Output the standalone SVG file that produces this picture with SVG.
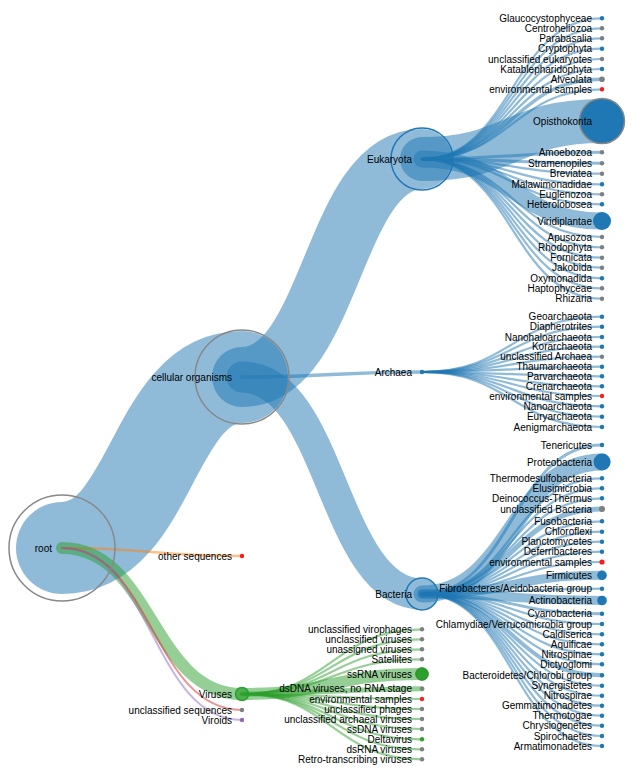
<svg xmlns="http://www.w3.org/2000/svg" width="637" height="773" viewBox="0 0 637 773">
<style>
.l{fill:none;stroke-opacity:.5;stroke-linecap:round}
.b{stroke:#1f77b4}.g{stroke:#2ca02c}.o{stroke:#ff7f0e}.r{stroke:#d62728}.p{stroke:#9467bd}
text{font-family:"Liberation Sans",Arial,sans-serif;font-size:10px;text-anchor:end;fill:#000}
circle{r:2.2}
.fb{fill:#1f77b4}.fk{fill:#7f7f7f}.fr{fill:#ff1a1a}.fg{fill:#2ca02c}.fp{fill:#9467bd}
.ring{fill:none;stroke:#888;stroke-width:1.5}
.ringb{fill:none;stroke:#1f77b4;stroke-width:1.5}
.ringg{fill:none;stroke:#2ca02c;stroke-width:1.5}
</style>
<rect width="637" height="773" fill="#fff"/>
<g id="links" stroke-width="2.2">
<path class="l b" stroke-width="92" d="M62,548C152,548 152,377 242,377"/>
<path class="l o" stroke-width="2.5" d="M62,548C152,548 152,556 242,556"/>
<path class="l g" stroke-width="12" d="M62,548C152,548 152,694 242,694"/>
<path class="l r" stroke-width="2" d="M62,548C152,548 152,710 242,710"/>
<path class="l p" stroke-width="2" d="M62,548C152,548 152,720 242,720"/>
<path class="l b" stroke-width="60" d="M242,377C332,377 332,159 422,159"/>
<path class="l b" stroke-width="3.5" d="M242,377C332,377 332,372 422,372"/>
<path class="l b" stroke-width="31" d="M242,377C332,377 332,594 422,594"/>
<path class="l b" d="M422,159C512,159 512,18.3 602,18.3"/>
<path class="l b" d="M422,159C512,159 512,28.3 602,28.3"/>
<path class="l b" d="M422,159C512,159 512,38.3 602,38.3"/>
<path class="l b" d="M422,159C512,159 512,48.7 602,48.7"/>
<path class="l b" d="M422,159C512,159 512,59 602,59"/>
<path class="l b" d="M422,159C512,159 512,69 602,69"/>
<path class="l b" stroke-width="3.5" d="M422,159C512,159 512,79.3 602,79.3"/>
<path class="l b" d="M422,159C512,159 512,89.3 602,89.3"/>
<path class="l b" stroke-width="44" d="M422,159C512,159 512,121 602,121"/>
<path class="l b" stroke-width="3" d="M422,159C512,159 512,152.3 602,152.3"/>
<path class="l b" stroke-width="3" d="M422,159C512,159 512,163.3 602,163.3"/>
<path class="l b" d="M422,159C512,159 512,173.7 602,173.7"/>
<path class="l b" d="M422,159C512,159 512,184.3 602,184.3"/>
<path class="l b" d="M422,159C512,159 512,194.3 602,194.3"/>
<path class="l b" d="M422,159C512,159 512,204.3 602,204.3"/>
<path class="l b" stroke-width="17" d="M422,159C512,159 512,221 602,221"/>
<path class="l b" d="M422,159C512,159 512,237 602,237"/>
<path class="l b" d="M422,159C512,159 512,247.3 602,247.3"/>
<path class="l b" d="M422,159C512,159 512,257.7 602,257.7"/>
<path class="l b" d="M422,159C512,159 512,267.7 602,267.7"/>
<path class="l b" d="M422,159C512,159 512,278.3 602,278.3"/>
<path class="l b" d="M422,159C512,159 512,288.3 602,288.3"/>
<path class="l b" d="M422,159C512,159 512,298.7 602,298.7"/>
<path class="l b" d="M422,372C512,372 512,316.7 602,316.7"/>
<path class="l b" d="M422,372C512,372 512,326.7 602,326.7"/>
<path class="l b" d="M422,372C512,372 512,337 602,337"/>
<path class="l b" d="M422,372C512,372 512,346.7 602,346.7"/>
<path class="l b" d="M422,372C512,372 512,356.7 602,356.7"/>
<path class="l b" d="M422,372C512,372 512,366.7 602,366.7"/>
<path class="l b" d="M422,372C512,372 512,376.3 602,376.3"/>
<path class="l b" d="M422,372C512,372 512,386.3 602,386.3"/>
<path class="l b" d="M422,372C512,372 512,396 602,396"/>
<path class="l b" d="M422,372C512,372 512,406.3 602,406.3"/>
<path class="l b" d="M422,372C512,372 512,416.7 602,416.7"/>
<path class="l b" d="M422,372C512,372 512,427 602,427"/>
<path class="l b" stroke-width="3" d="M422,594C512,594 512,445 602,445"/>
<path class="l b" stroke-width="17" d="M422,594C512,594 512,462 602,462"/>
<path class="l b" d="M422,594C512,594 512,478.3 602,478.3"/>
<path class="l b" d="M422,594C512,594 512,488.3 602,488.3"/>
<path class="l b" d="M422,594C512,594 512,498.3 602,498.3"/>
<path class="l b" stroke-width="5" d="M422,594C512,594 512,509 602,509"/>
<path class="l b" d="M422,594C512,594 512,521.3 602,521.3"/>
<path class="l b" d="M422,594C512,594 512,531.7 602,531.7"/>
<path class="l b" d="M422,594C512,594 512,541.7 602,541.7"/>
<path class="l b" d="M422,594C512,594 512,551.7 602,551.7"/>
<path class="l b" d="M422,594C512,594 512,562 602,562"/>
<path class="l b" stroke-width="9" d="M422,594C512,594 512,575.3 602,575.3"/>
<path class="l b" d="M422,594C512,594 512,588.7 602,588.7"/>
<path class="l b" stroke-width="9" d="M422,594C512,594 512,600.5 602,600.5"/>
<path class="l b" stroke-width="3" d="M422,594C512,594 512,613.7 602,613.7"/>
<path class="l b" d="M422,594C512,594 512,624 602,624"/>
<path class="l b" d="M422,594C512,594 512,634.3 602,634.3"/>
<path class="l b" d="M422,594C512,594 512,644.3 602,644.3"/>
<path class="l b" d="M422,594C512,594 512,654.3 602,654.3"/>
<path class="l b" d="M422,594C512,594 512,664.3 602,664.3"/>
<path class="l b" stroke-width="4" d="M422,594C512,594 512,675.3 602,675.3"/>
<path class="l b" d="M422,594C512,594 512,685.7 602,685.7"/>
<path class="l b" d="M422,594C512,594 512,695.7 602,695.7"/>
<path class="l b" d="M422,594C512,594 512,705.7 602,705.7"/>
<path class="l b" d="M422,594C512,594 512,715.7 602,715.7"/>
<path class="l b" d="M422,594C512,594 512,725.7 602,725.7"/>
<path class="l b" d="M422,594C512,594 512,736 602,736"/>
<path class="l b" d="M422,594C512,594 512,746 602,746"/>
<path class="l g" d="M242,694C332,694 332,629.3 422,629.3"/>
<path class="l g" d="M242,694C332,694 332,639.3 422,639.3"/>
<path class="l g" d="M242,694C332,694 332,649.3 422,649.3"/>
<path class="l g" d="M242,694C332,694 332,659.3 422,659.3"/>
<path class="l g" stroke-width="12" d="M242,694C332,694 332,674 422,674"/>
<path class="l g" stroke-width="5" d="M242,694C332,694 332,688.7 422,688.7"/>
<path class="l g" d="M242,694C332,694 332,699 422,699"/>
<path class="l g" d="M242,694C332,694 332,709 422,709"/>
<path class="l g" d="M242,694C332,694 332,719 422,719"/>
<path class="l g" d="M242,694C332,694 332,729 422,729"/>
<path class="l g" d="M242,694C332,694 332,739.3 422,739.3"/>
<path class="l g" d="M242,694C332,694 332,749.3 422,749.3"/>
<path class="l g" d="M242,694C332,694 332,759.3 422,759.3"/>
</g>
<g id="n-root" transform="translate(62,548)"><circle class="ring" style="r:53"/><text x="-10" dy=".35em">root</text></g>
<g id="n-cellular-organisms" transform="translate(242,377)"><circle class="ring" style="r:47"/><text x="-10" dy=".35em">cellular organisms</text></g>
<g id="n-other-sequences" transform="translate(242,556)"><circle class="fr"/><text x="-10" dy=".35em">other sequences</text></g>
<g id="n-viruses" transform="translate(242,694)"><circle class="ringg" style="r:6.5;fill:#2ca02c;fill-opacity:.35"/><text x="-10" dy=".35em">Viruses</text></g>
<g id="n-unclassified-sequences" transform="translate(242,710)"><circle class="fk"/><text x="-10" dy=".35em">unclassified sequences</text></g>
<g id="n-viroids" transform="translate(242,720)"><circle class="fp"/><text x="-10" dy=".35em">Viroids</text></g>
<g id="n-eukaryota" transform="translate(422,159)"><circle class="ringb" style="r:31"/><text x="-10" dy=".35em">Eukaryota</text></g>
<g id="n-archaea" transform="translate(422,372)"><circle class="fb"/><text x="-10" dy=".35em">Archaea</text></g>
<g id="n-bacteria" transform="translate(422,594)"><circle class="ringb" style="r:16"/><text x="-10" dy=".35em">Bacteria</text></g>
<g id="n-glaucocystophyceae" transform="translate(602,18.3)"><circle class="fb"/><text x="-10" dy=".35em">Glaucocystophyceae</text></g>
<g id="n-centroheliozoa" transform="translate(602,28.3)"><circle class="fk"/><text x="-10" dy=".35em">Centroheliozoa</text></g>
<g id="n-parabasalia" transform="translate(602,38.3)"><circle class="fk"/><text x="-10" dy=".35em">Parabasalia</text></g>
<g id="n-cryptophyta" transform="translate(602,48.7)"><circle class="fb"/><text x="-10" dy=".35em">Cryptophyta</text></g>
<g id="n-unclassified-eukaryotes" transform="translate(602,59)"><circle class="fk"/><text x="-10" dy=".35em">unclassified eukaryotes</text></g>
<g id="n-katablepharidophyta" transform="translate(602,69)"><circle class="fb"/><text x="-10" dy=".35em">Katablepharidophyta</text></g>
<g id="n-alveolata" transform="translate(602,79.3)"><circle class="fk" style="r:2.8"/><text x="-10" dy=".35em">Alveolata</text></g>
<g id="n-euk-environmental-samples" transform="translate(602,89.3)"><circle class="fr"/><text x="-10" dy=".35em">environmental samples</text></g>
<g id="n-opisthokonta" transform="translate(602,121)"><circle class="fb" style="r:22.5;stroke:#888;stroke-width:1.5"/><text x="-10" dy=".35em">Opisthokonta</text></g>
<g id="n-amoebozoa" transform="translate(602,152.3)"><circle class="fk"/><text x="-10" dy=".35em">Amoebozoa</text></g>
<g id="n-stramenopiles" transform="translate(602,163.3)"><circle class="fk"/><text x="-10" dy=".35em">Stramenopiles</text></g>
<g id="n-breviatea" transform="translate(602,173.7)"><circle class="fk"/><text x="-10" dy=".35em">Breviatea</text></g>
<g id="n-malawimonadidae" transform="translate(602,184.3)"><circle class="fb"/><text x="-10" dy=".35em">Malawimonadidae</text></g>
<g id="n-euglenozoa" transform="translate(602,194.3)"><circle class="fk"/><text x="-10" dy=".35em">Euglenozoa</text></g>
<g id="n-heterolobosea" transform="translate(602,204.3)"><circle class="fb"/><text x="-10" dy=".35em">Heterolobosea</text></g>
<g id="n-viridiplantae" transform="translate(602,221)"><circle class="fb" style="r:9"/><text x="-10" dy=".35em">Viridiplantae</text></g>
<g id="n-apusozoa" transform="translate(602,237)"><circle class="fk"/><text x="-10" dy=".35em">Apusozoa</text></g>
<g id="n-rhodophyta" transform="translate(602,247.3)"><circle class="fk"/><text x="-10" dy=".35em">Rhodophyta</text></g>
<g id="n-fornicata" transform="translate(602,257.7)"><circle class="fk"/><text x="-10" dy=".35em">Fornicata</text></g>
<g id="n-jakobida" transform="translate(602,267.7)"><circle class="fk"/><text x="-10" dy=".35em">Jakobida</text></g>
<g id="n-oxymonadida" transform="translate(602,278.3)"><circle class="fb"/><text x="-10" dy=".35em">Oxymonadida</text></g>
<g id="n-haptophyceae" transform="translate(602,288.3)"><circle class="fk"/><text x="-10" dy=".35em">Haptophyceae</text></g>
<g id="n-rhizaria" transform="translate(602,298.7)"><circle class="fk"/><text x="-10" dy=".35em">Rhizaria</text></g>
<g id="n-geoarchaeota" transform="translate(602,316.7)"><circle class="fb"/><text x="-10" dy=".35em">Geoarchaeota</text></g>
<g id="n-diapherotrites" transform="translate(602,326.7)"><circle class="fb"/><text x="-10" dy=".35em">Diapherotrites</text></g>
<g id="n-nanohaloarchaeota" transform="translate(602,337)"><circle class="fb"/><text x="-10" dy=".35em">Nanohaloarchaeota</text></g>
<g id="n-korarchaeota" transform="translate(602,346.7)"><circle class="fb"/><text x="-10" dy=".35em">Korarchaeota</text></g>
<g id="n-unclassified-archaea" transform="translate(602,356.7)"><circle class="fk"/><text x="-10" dy=".35em">unclassified Archaea</text></g>
<g id="n-thaumarchaeota" transform="translate(602,366.7)"><circle class="fb"/><text x="-10" dy=".35em">Thaumarchaeota</text></g>
<g id="n-parvarchaeota" transform="translate(602,376.3)"><circle class="fb"/><text x="-10" dy=".35em">Parvarchaeota</text></g>
<g id="n-crenarchaeota" transform="translate(602,386.3)"><circle class="fb"/><text x="-10" dy=".35em">Crenarchaeota</text></g>
<g id="n-arc-environmental-samples" transform="translate(602,396)"><circle class="fr"/><text x="-10" dy=".35em">environmental samples</text></g>
<g id="n-nanoarchaeota" transform="translate(602,406.3)"><circle class="fb"/><text x="-10" dy=".35em">Nanoarchaeota</text></g>
<g id="n-euryarchaeota" transform="translate(602,416.7)"><circle class="fb"/><text x="-10" dy=".35em">Euryarchaeota</text></g>
<g id="n-aenigmarchaeota" transform="translate(602,427)"><circle class="fb"/><text x="-10" dy=".35em">Aenigmarchaeota</text></g>
<g id="n-tenericutes" transform="translate(602,445)"><circle class="fb"/><text x="-10" dy=".35em">Tenericutes</text></g>
<g id="n-proteobacteria" transform="translate(602,462)"><circle class="fb" style="r:8.5"/><text x="-10" dy=".35em">Proteobacteria</text></g>
<g id="n-thermodesulfobacteria" transform="translate(602,478.3)"><circle class="fb"/><text x="-10" dy=".35em">Thermodesulfobacteria</text></g>
<g id="n-elusimicrobia" transform="translate(602,488.3)"><circle class="fb"/><text x="-10" dy=".35em">Elusimicrobia</text></g>
<g id="n-deinococcus-thermus" transform="translate(602,498.3)"><circle class="fb"/><text x="-10" dy=".35em">Deinococcus-Thermus</text></g>
<g id="n-unclassified-bacteria" transform="translate(602,509)"><circle class="fk" style="r:3"/><text x="-10" dy=".35em">unclassified Bacteria</text></g>
<g id="n-fusobacteria" transform="translate(602,521.3)"><circle class="fb"/><text x="-10" dy=".35em">Fusobacteria</text></g>
<g id="n-chloroflexi" transform="translate(602,531.7)"><circle class="fb"/><text x="-10" dy=".35em">Chloroflexi</text></g>
<g id="n-planctomycetes" transform="translate(602,541.7)"><circle class="fb"/><text x="-10" dy=".35em">Planctomycetes</text></g>
<g id="n-deferribacteres" transform="translate(602,551.7)"><circle class="fb"/><text x="-10" dy=".35em">Deferribacteres</text></g>
<g id="n-bac-environmental-samples" transform="translate(602,562)"><circle class="fr" style="r:2.6"/><text x="-10" dy=".35em">environmental samples</text></g>
<g id="n-firmicutes" transform="translate(602,575.3)"><circle class="fb" style="r:4.8"/><text x="-10" dy=".35em">Firmicutes</text></g>
<g id="n-fibrobacteres" transform="translate(602,588.7)"><circle class="fb"/><text x="-10" dy=".35em">Fibrobacteres/Acidobacteria group</text></g>
<g id="n-actinobacteria" transform="translate(602,600.5)"><circle class="fb" style="r:4.8"/><text x="-10" dy=".35em">Actinobacteria</text></g>
<g id="n-cyanobacteria" transform="translate(602,613.7)"><circle class="fb"/><text x="-10" dy=".35em">Cyanobacteria</text></g>
<g id="n-chlamydiae" transform="translate(602,624)"><circle class="fb"/><text x="-10" dy=".35em">Chlamydiae/Verrucomicrobia group</text></g>
<g id="n-caldiserica" transform="translate(602,634.3)"><circle class="fb"/><text x="-10" dy=".35em">Caldiserica</text></g>
<g id="n-aquificae" transform="translate(602,644.3)"><circle class="fb"/><text x="-10" dy=".35em">Aquificae</text></g>
<g id="n-nitrospinae" transform="translate(602,654.3)"><circle class="fb"/><text x="-10" dy=".35em">Nitrospinae</text></g>
<g id="n-dictyoglomi" transform="translate(602,664.3)"><circle class="fb"/><text x="-10" dy=".35em">Dictyoglomi</text></g>
<g id="n-bacteroidetes" transform="translate(602,675.3)"><circle class="fb"/><text x="-10" dy=".35em">Bacteroidetes/Chlorobi group</text></g>
<g id="n-synergistetes" transform="translate(602,685.7)"><circle class="fb"/><text x="-10" dy=".35em">Synergistetes</text></g>
<g id="n-nitrospirae" transform="translate(602,695.7)"><circle class="fb"/><text x="-10" dy=".35em">Nitrospirae</text></g>
<g id="n-gemmatimonadetes" transform="translate(602,705.7)"><circle class="fb"/><text x="-10" dy=".35em">Gemmatimonadetes</text></g>
<g id="n-thermotogae" transform="translate(602,715.7)"><circle class="fb"/><text x="-10" dy=".35em">Thermotogae</text></g>
<g id="n-chrysiogenetes" transform="translate(602,725.7)"><circle class="fb"/><text x="-10" dy=".35em">Chrysiogenetes</text></g>
<g id="n-spirochaetes" transform="translate(602,736)"><circle class="fb"/><text x="-10" dy=".35em">Spirochaetes</text></g>
<g id="n-armatimonadetes" transform="translate(602,746)"><circle class="fb"/><text x="-10" dy=".35em">Armatimonadetes</text></g>
<g id="n-unclassified-virophages" transform="translate(422,629.3)"><circle class="fk"/><text x="-10" dy=".35em">unclassified virophages</text></g>
<g id="n-unclassified-viruses" transform="translate(422,639.3)"><circle class="fk"/><text x="-10" dy=".35em">unclassified viruses</text></g>
<g id="n-unassigned-viruses" transform="translate(422,649.3)"><circle class="fk"/><text x="-10" dy=".35em">unassigned viruses</text></g>
<g id="n-satellites" transform="translate(422,659.3)"><circle class="fk"/><text x="-10" dy=".35em">Satellites</text></g>
<g id="n-ssrna-viruses" transform="translate(422,674)"><circle class="fg" style="r:6.3;stroke:#248a24;stroke-width:1"/><text x="-10" dy=".35em">ssRNA viruses</text></g>
<g id="n-dsdna-viruses" transform="translate(422,688.7)"><circle class="fk"/><text x="-10" dy=".35em">dsDNA viruses, no RNA stage</text></g>
<g id="n-vir-environmental-samples" transform="translate(422,699)"><circle class="fr"/><text x="-10" dy=".35em">environmental samples</text></g>
<g id="n-unclassified-phages" transform="translate(422,709)"><circle class="fk"/><text x="-10" dy=".35em">unclassified phages</text></g>
<g id="n-unclassified-archaeal-viruses" transform="translate(422,719)"><circle class="fk"/><text x="-10" dy=".35em">unclassified archaeal viruses</text></g>
<g id="n-ssdna-viruses" transform="translate(422,729)"><circle class="fk"/><text x="-10" dy=".35em">ssDNA viruses</text></g>
<g id="n-deltavirus" transform="translate(422,739.3)"><circle class="fg"/><text x="-10" dy=".35em">Deltavirus</text></g>
<g id="n-dsrna-viruses" transform="translate(422,749.3)"><circle class="fk"/><text x="-10" dy=".35em">dsRNA viruses</text></g>
<g id="n-retro-transcribing-viruses" transform="translate(422,759.3)"><circle class="fk"/><text x="-10" dy=".35em">Retro-transcribing viruses</text></g>
</svg>
